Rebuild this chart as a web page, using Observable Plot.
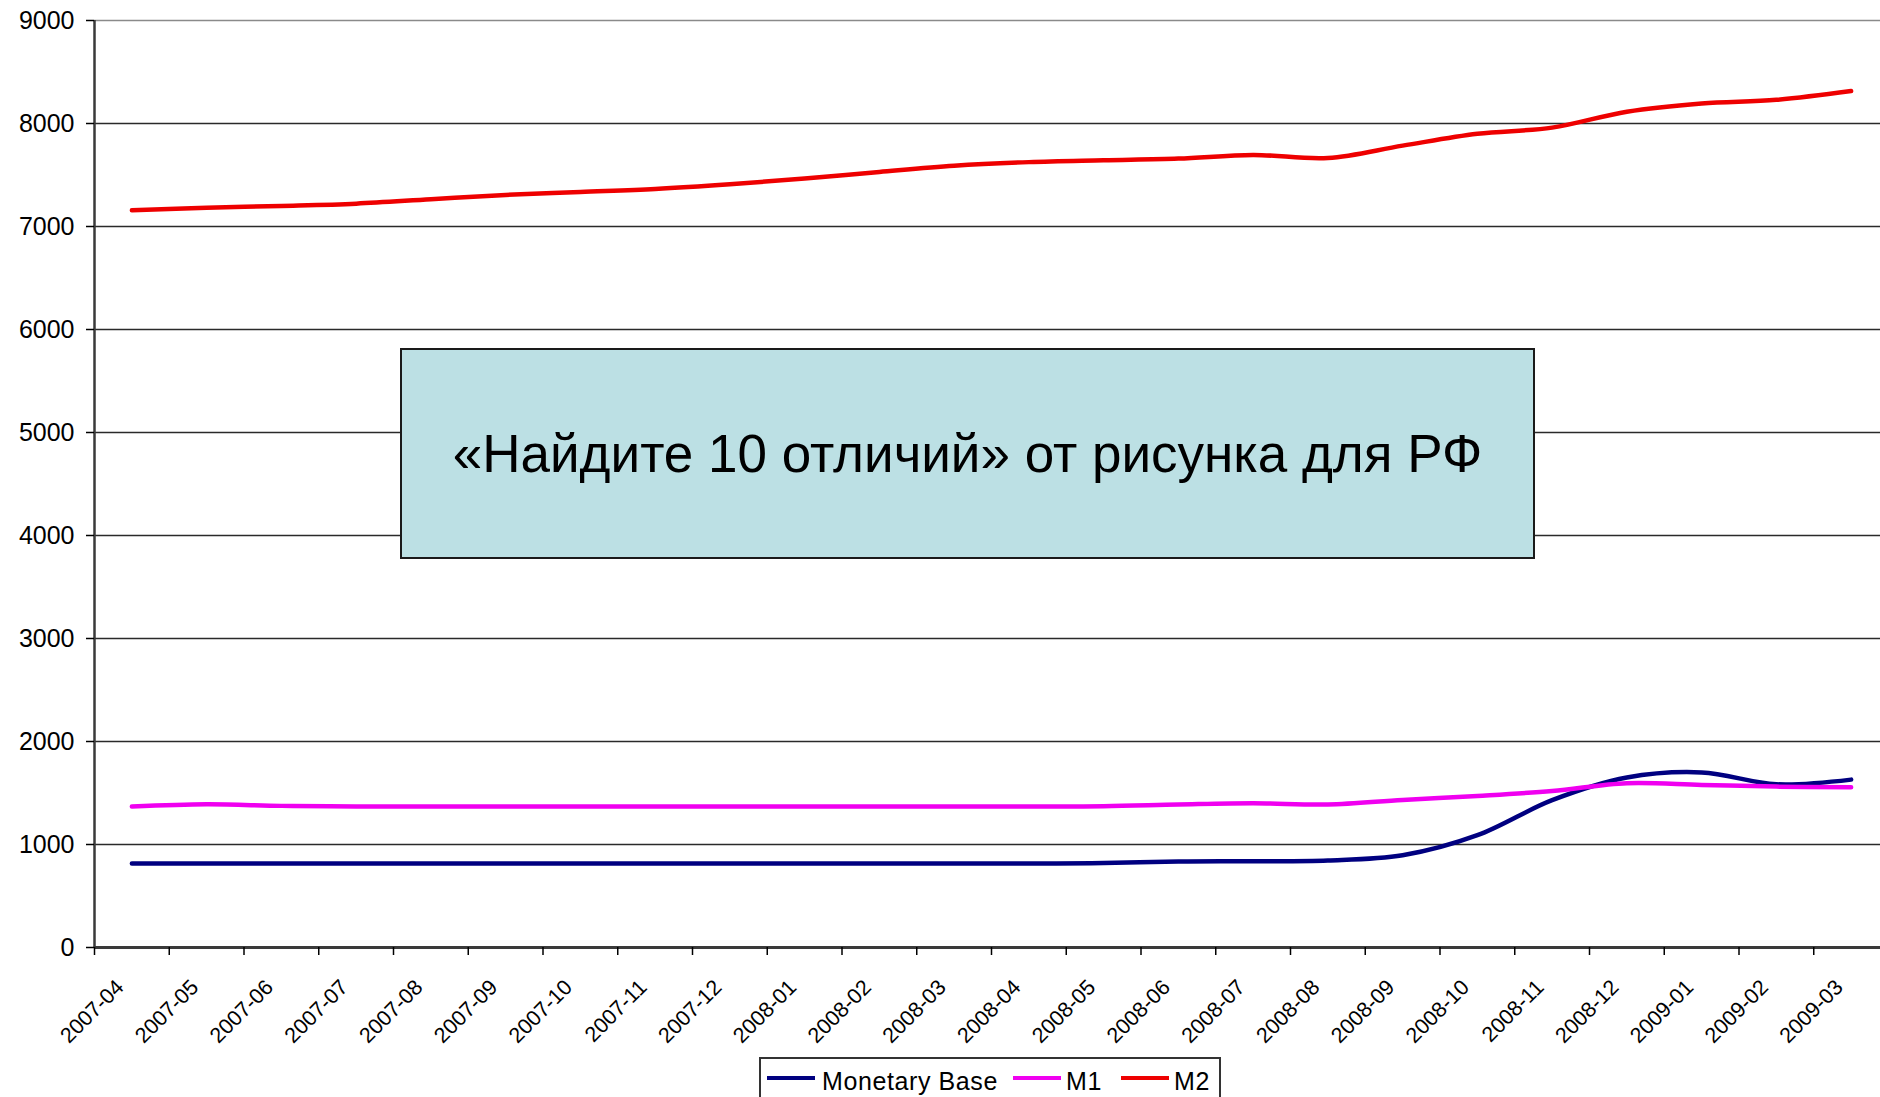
<!DOCTYPE html>
<html>
<head>
<meta charset="utf-8">
<script src="https://cdn.jsdelivr.net/npm/d3@7"></script>
<script src="https://cdn.jsdelivr.net/npm/@observablehq/plot@0.6"></script>
<style>
html, body { margin: 0; padding: 0; background: #fff; overflow: hidden; }
#wrap { position: relative; width: 1880px; height: 1097px; overflow: hidden; background: #fff; }
#chart svg { display: block; }
#box {
  position: absolute; left: 400px; top: 348px; width: 1131px; height: 207px;
  background: #bce0e4; border: 2px solid #1a1a1a;
  display: flex; align-items: center; justify-content: center;
  font-family: "Liberation Sans", Arial, sans-serif; font-size: 53px; color: #000;
}
#legend {
  position: absolute; left: 759px; top: 1057px; width: 458px; height: 60px;
  border: 2px solid #333; background: #fff;
  font-family: "Liberation Sans", Arial, sans-serif; font-size: 25px; letter-spacing: 0.6px; color: #000;
}
#legend .sw { position: absolute; top: 17px; width: 48px; height: 4px; }
#legend .lb { position: absolute; top: 8px; white-space: nowrap; }
</style>
</head>
<body>
<div id="wrap">
  <div id="chart"></div>
  <div id="box"></div>
  <div id="legend"></div>
</div>
<script>
const months = ["2007-04","2007-05","2007-06","2007-07","2007-08","2007-09","2007-10","2007-11","2007-12",
  "2008-01","2008-02","2008-03","2008-04","2008-05","2008-06","2008-07","2008-08","2008-09","2008-10",
  "2008-11","2008-12","2009-01","2009-02","2009-03"];
const monetaryBase = [815, 815, 815, 815, 815, 815, 815, 815, 815, 815, 815, 815, 815, 820, 835, 838, 845, 895, 1090, 1430, 1650, 1700, 1585, 1630];
const m1 = [1368, 1390, 1375, 1370, 1370, 1370, 1370, 1370, 1370, 1370, 1370, 1370, 1370, 1372, 1388, 1400, 1388, 1433, 1472, 1520, 1595, 1578, 1562, 1555];
const m2 = [7158, 7183, 7200, 7222, 7265, 7307, 7336, 7365, 7410, 7465, 7530, 7590, 7625, 7643, 7659, 7695, 7665, 7785, 7900, 7960, 8115, 8195, 8230, 8315];
const yTicks = [0, 1000, 2000, 3000, 4000, 5000, 6000, 7000, 8000, 9000];
const seriesNames = ["Monetary Base", "M1", "M2"];
const seriesColors = ["#000080", "#f000f0", "#ee0000"];
const boxText = "«Найдите 10 отличий» от рисунка для РФ";

const rows = [];
[monetaryBase, m1, m2].forEach((arr, s) => arr.forEach((v, i) => rows.push({i, v, series: seriesNames[s]})));
const boundaries = months.map((d, i) => i - 0.5);

const W = 1880, H = 1050;
const chart = Plot.plot({
  width: W, height: H,
  marginTop: 20, marginBottom: H - 947, marginLeft: 94, marginRight: 0,
  style: {background: "transparent", fontFamily: "'Liberation Sans', Arial, sans-serif", color: "#000", overflow: "visible"},
  x: {domain: [-0.5, 23.5], range: [94, 1888]},
  y: {domain: [0, 9000]},
  color: {domain: seriesNames, range: seriesColors},
  marks: [
    Plot.ruleY(yTicks.filter(t => t > 0 && t < 9000), {stroke: "#2a2a2a", strokeWidth: 1.6}),
    Plot.ruleY([9000], {stroke: "#8a8a8a", strokeWidth: 1.6}),
    Plot.line(rows, {x: "i", y: "v", z: "series", stroke: "series", strokeWidth: 4.5, curve: "catmull-rom"}),
    Plot.ruleY([0], {stroke: "#3a3a3a", strokeWidth: 3}),
    Plot.ruleX([-0.5], {stroke: "#3a3a3a", strokeWidth: 2.5}),
    Plot.axisY({ticks: yTicks, tickSize: 8, tickPadding: 12, fontSize: 25, label: null, strokeWidth: 1.5,
      tickFormat: d => String(d)}),
    Plot.axisX({ticks: boundaries, tickSize: 8, tickFormat: () => "", label: null, strokeWidth: 1.5}),
    Plot.text(months, {x: (d, i) => i, frameAnchor: "bottom", dy: 41, dx: -7, rotate: -45,
      textAnchor: "end", lineAnchor: "bottom", fontSize: 21.5, fill: "#000"})
  ]
});
document.getElementById("chart").appendChild(chart);
document.getElementById("box").textContent = boxText;

const legendPos = [[6, 61], [252, 305], [360, 413]];
const legend = document.getElementById("legend");
seriesNames.forEach((name, k) => {
  const sw = document.createElement("div");
  sw.className = "sw"; sw.style.left = legendPos[k][0] + "px"; sw.style.background = seriesColors[k];
  const lb = document.createElement("div");
  lb.className = "lb"; lb.style.left = legendPos[k][1] + "px"; lb.textContent = name;
  legend.appendChild(sw); legend.appendChild(lb);
});
</script>
</body>
</html>
